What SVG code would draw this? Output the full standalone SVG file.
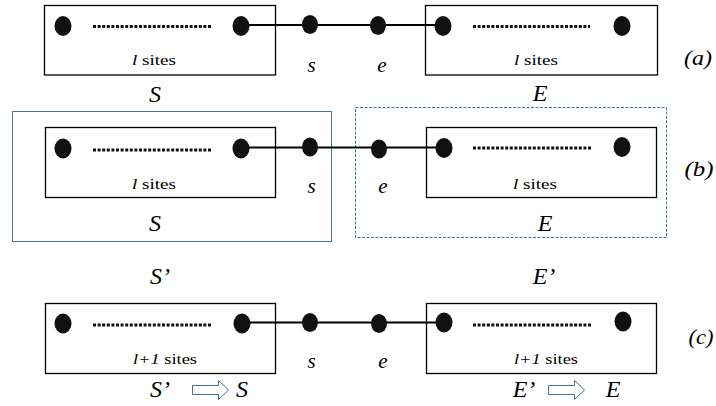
<svg xmlns="http://www.w3.org/2000/svg" width="716" height="406" viewBox="0 0 716 406">
  <defs>
    <!-- outlined block arrow used for the S'->S and E'->E renaming -->
    <path id="blockArrow" d="M0,-4.5 H26 V-9.5 L36,0 L26,9.5 V4.5 H0 Z" fill="#fff" stroke="#41719C" stroke-width="1"/>
  </defs>

  <!-- group boxes of panel (b) -->
  <rect id="groupS" x="12.5" y="111.5" width="319" height="130" fill="none" stroke="#41719C" stroke-width="1"/>
  <rect id="groupE" x="355.5" y="107.5" width="311" height="130" fill="none" stroke="#41719C" stroke-width="1" stroke-dasharray="3 1.5"/>

  <!-- bonds linking block edges to the two central sites -->
  <g id="connectors" stroke="#000" stroke-width="2" fill="none">
    <polyline points="241,25 310,25 378,25 443,25"/>
    <polyline points="241,147.5 310,147.5 378,147.5 444,147.5"/>
    <polyline points="242,322.5 310,322.5 379,322.5 444,322.5"/>
  </g>

  <!-- block boxes -->
  <g fill="none" stroke="#000" stroke-width="1.3">
    <rect id="a-system-box" x="44.5" y="5.5" width="231" height="69.5"/>
    <rect id="a-env-box" x="425.5" y="5.5" width="232" height="69.5"/>
    <rect id="b-system-box" x="45.5" y="127.5" width="230" height="70"/>
    <rect id="b-env-box" x="426.5" y="127.5" width="230" height="70"/>
    <rect id="c-system-box" x="45.5" y="303.5" width="230" height="70"/>
    <rect id="c-env-box" x="426.5" y="303.5" width="230" height="70"/>
  </g>

  <!-- dotted runs of sites inside each block -->
  <g stroke="#111" stroke-width="3" stroke-dasharray="3 1.6">
    <line x1="93" y1="26.5" x2="211" y2="26.5"/>
    <line x1="473" y1="26.5" x2="590" y2="26.5"/>
    <line x1="93" y1="150" x2="211" y2="150"/>
    <line x1="473" y1="148" x2="591" y2="148"/>
    <line x1="93" y1="325" x2="211" y2="325"/>
    <line x1="473" y1="325" x2="591" y2="325"/>
  </g>

  <!-- sites -->
  <g fill="#111">
    <g id="a-system"><ellipse cx="63" cy="26" rx="8.5" ry="10"/><ellipse cx="241" cy="26" rx="8.5" ry="10"/></g>
    <g id="a-site-s"><ellipse cx="310" cy="24.5" rx="8" ry="9.5"/></g>
    <g id="a-site-e"><ellipse cx="378" cy="25.5" rx="8" ry="9.5"/></g>
    <g id="a-env"><ellipse cx="443" cy="26" rx="8.5" ry="10"/><ellipse cx="622" cy="26" rx="8.5" ry="10"/></g>
    <g id="b-system"><ellipse cx="63" cy="148.5" rx="8.5" ry="10"/><ellipse cx="241" cy="148.5" rx="8.5" ry="10"/></g>
    <g id="b-site-s"><ellipse cx="310" cy="147" rx="8" ry="9.5"/></g>
    <g id="b-site-e"><ellipse cx="379" cy="149" rx="8" ry="9.5"/></g>
    <g id="b-env"><ellipse cx="444" cy="148" rx="8.5" ry="10"/><ellipse cx="622" cy="147" rx="8.5" ry="10"/></g>
    <g id="c-system"><ellipse cx="63" cy="323.5" rx="8.5" ry="10"/><ellipse cx="242" cy="323.5" rx="8.5" ry="10"/></g>
    <g id="c-site-s"><ellipse cx="310" cy="322.5" rx="8" ry="9.5"/></g>
    <g id="c-site-e"><ellipse cx="379" cy="323.5" rx="8" ry="9.5"/></g>
    <g id="c-env"><ellipse cx="444" cy="322.5" rx="8.5" ry="10"/><ellipse cx="623" cy="321.5" rx="8.5" ry="10"/></g>
  </g>

  <!-- block size labels -->
  <g fill="#000" font-size="15" text-anchor="middle" style="font-family:'Liberation Serif',serif">
    <text x="154" y="65" textLength="44" lengthAdjust="spacingAndGlyphs"><tspan font-style="italic">l</tspan> sites</text>
    <text x="536" y="65" textLength="44" lengthAdjust="spacingAndGlyphs"><tspan font-style="italic">l</tspan> sites</text>
    <text x="154" y="188.5" textLength="44" lengthAdjust="spacingAndGlyphs"><tspan font-style="italic">l</tspan> sites</text>
    <text x="535" y="188.5" textLength="44" lengthAdjust="spacingAndGlyphs"><tspan font-style="italic">l</tspan> sites</text>
    <text x="165" y="364" textLength="64" lengthAdjust="spacingAndGlyphs"><tspan font-style="italic">l+1</tspan> sites</text>
    <text x="546" y="364" textLength="64" lengthAdjust="spacingAndGlyphs"><tspan font-style="italic">l+1</tspan> sites</text>
  </g>

  <!-- site names -->
  <g fill="#000" font-size="21" font-style="italic" text-anchor="middle" style="font-family:'Liberation Serif',serif">
    <text x="311.5" y="71.5">s</text>
    <text x="382" y="72">e</text>
    <text x="311.5" y="192.5">s</text>
    <text x="383" y="192.5">e</text>
    <text x="311.5" y="368">s</text>
    <text x="383" y="368">e</text>
    <text x="698" y="65" textLength="28" lengthAdjust="spacingAndGlyphs">(a)</text>
    <text x="699" y="176" textLength="29" lengthAdjust="spacingAndGlyphs">(b)</text>
    <text x="701" y="344" textLength="25" lengthAdjust="spacingAndGlyphs">(c)</text>
  </g>

  <!-- block names -->
  <g fill="#000" font-size="24" font-style="italic" text-anchor="middle" style="font-family:'Liberation Serif',serif">
    <text x="155" y="101.5">S</text>
    <text x="540" y="101">E</text>
    <text x="155" y="231">S</text>
    <text x="545" y="231">E</text>
    <text x="160" y="284">S&#8217;</text>
    <text x="544" y="284">E&#8217;</text>
    <g id="renameS">
      <text x="160" y="397">S&#8217;</text>
      <use href="#blockArrow" x="192.5" y="390"/>
      <text x="242" y="397">S</text>
    </g>
    <g id="renameE">
      <text x="524" y="397">E&#8217;</text>
      <use href="#blockArrow" x="548.5" y="390"/>
      <text x="613" y="397">E</text>
    </g>
  </g>
</svg>
